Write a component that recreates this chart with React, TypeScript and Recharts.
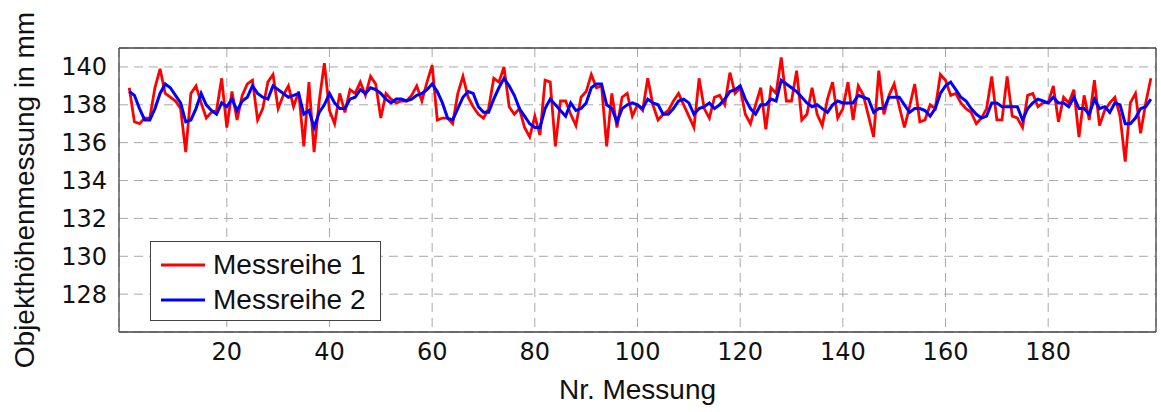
import { LineChart, Line, XAxis, YAxis, CartesianGrid, ReferenceLine, Legend } from 'recharts'

// Nr. Messung 1..200
const MESSREIHE_1 = [
  138.9, 137.1, 137.0, 137.3, 137.3, 138.9, 139.9, 138.6, 138.4, 138.2,
  137.8, 135.5, 138.6, 139.0, 138.1, 137.3, 137.6, 137.7, 139.4, 136.8,
  138.7, 137.2, 138.5, 139.1, 139.3, 137.2, 137.8, 139.2, 139.6, 137.8,
  138.5, 139.0, 137.9, 138.7, 135.8, 139.2, 135.5, 138.2, 140.2, 137.7,
  137.0, 138.6, 137.6, 138.8, 138.6, 139.2, 138.5, 139.5, 139.1, 137.3,
  138.6, 138.3, 138.1, 138.2, 138.2, 138.5, 139.0, 138.2, 139.2, 140.1,
  137.2, 137.3, 137.3, 137.0, 138.6, 139.5, 138.4, 137.9, 137.5, 137.3,
  137.8, 139.4, 139.2, 140.0, 137.9, 137.5, 137.8, 136.8, 136.3, 137.4,
  136.4, 139.3, 139.2, 135.8, 138.2, 138.2, 137.5, 136.9, 138.4, 138.7,
  139.6, 138.9, 139.0, 135.8, 138.6, 136.8, 138.4, 138.6, 137.4, 138.0,
  137.7, 139.4, 138.0, 137.2, 137.5, 137.7, 138.2, 138.6, 138.0, 137.4,
  136.8, 139.4, 137.8, 137.3, 138.4, 138.5, 138.0, 139.7, 138.6, 138.9,
  137.5, 137.0, 138.0, 138.9, 136.7, 138.9, 138.6, 140.5, 138.2, 138.2,
  139.8, 137.2, 137.5, 138.9, 137.5, 136.9, 138.3, 139.2, 137.3, 137.8,
  139.2, 137.2, 139.0, 138.5, 137.4, 136.3, 139.8, 137.5, 138.5, 139.1,
  137.9, 136.8, 137.9, 139.1, 137.1, 137.2, 138.0, 137.8, 139.6, 139.3,
  138.5, 138.6, 138.1, 137.8, 137.6, 137.0, 137.3, 137.8, 139.5, 137.2,
  137.2, 139.5, 137.4, 137.3, 136.8, 138.5, 138.6, 137.9, 138.1, 138.1,
  139.0, 137.1, 138.4, 138.1, 138.8, 136.3, 138.5, 137.2, 139.3, 136.9,
  137.7, 138.1, 138.4, 137.4, 135.0, 138.1, 138.6, 136.5, 138.1, 139.4,
]

const MESSREIHE_2 = [
  138.7, 138.5, 137.8, 137.2, 137.2, 137.8, 138.6, 139.1, 138.9, 138.5,
  138.1, 137.1, 137.2, 137.8, 138.6, 138.0, 137.7, 137.5, 138.1, 137.9,
  138.3, 137.7, 138.2, 138.4, 139.0, 138.6, 138.4, 138.3, 139.0, 138.8,
  138.6, 138.4, 138.5, 138.6, 137.5, 137.7, 136.8, 137.6, 138.0, 138.6,
  138.1, 137.8, 137.8, 138.3, 138.4, 138.8, 138.6, 138.9, 138.8, 138.6,
  138.3, 138.1, 138.3, 138.3, 138.2, 138.3, 138.5, 138.6, 138.8, 139.1,
  138.7, 138.1, 137.3, 137.2, 137.8, 138.4, 138.7, 138.6, 137.9, 137.6,
  137.6, 138.3, 138.9, 139.4, 139.0, 138.5, 137.8, 137.4, 137.0, 136.8,
  136.8, 137.8, 138.3, 138.0, 137.7, 137.4, 138.1, 137.7, 137.8, 138.1,
  138.9, 139.1, 139.1, 138.0, 137.8, 137.1, 137.8, 138.0, 138.1, 138.0,
  137.8, 138.3, 138.1, 138.0, 137.5, 137.5, 137.8, 138.2, 138.3, 138.1,
  137.5, 137.8, 137.9, 138.1, 137.8, 138.0, 138.3, 138.7, 138.8, 139.0,
  138.3, 137.8, 137.5, 138.0, 138.0, 138.3, 138.2, 139.3, 139.1, 138.9,
  138.7, 138.4, 138.1, 137.9, 138.0, 137.8, 137.6, 138.0, 138.2, 138.1,
  138.1, 138.1, 138.5, 138.4, 138.3, 137.6, 137.8, 137.8, 138.4, 138.4,
  138.4, 138.0, 137.6, 137.8, 137.8, 137.7, 137.4, 137.8, 138.6, 139.0,
  139.2, 138.8, 138.4, 138.2, 137.8, 137.5, 137.3, 137.4, 138.1, 138.1,
  137.9, 137.9, 137.9, 137.9, 137.2, 137.8, 138.1, 138.3, 138.2, 138.1,
  138.4, 138.1, 138.1, 137.9, 138.4, 137.8, 137.8, 137.5, 138.3, 137.8,
  137.9, 137.6, 138.1, 138.0, 137.0, 137.0, 137.3, 137.8, 137.9, 138.3,
]

const X_TICKS = [20, 40, 60, 80, 100, 120, 140, 160, 180]
const Y_TICKS = [128, 130, 132, 134, 136, 138, 140]

const rows = MESSREIHE_1.map((v, i) => ({ nr: i + 1, m1: v, m2: MESSREIHE_2[i] }))

const frame = '#444'
const tickFont = { fontSize: 24, fontFamily: 'DejaVu Sans', fill: '#111' }
const labelFont = { fontSize: 28, fontFamily: 'Liberation Sans', fill: '#111' }

function renderLegend(props: any) {
  const payload = props.payload || []
  return (
    <div style={{
      border: `1px solid ${frame}`, background: '#fff', width: 231, height: 80,
      paddingTop: 5, boxSizing: 'border-box', fontFamily: 'Liberation Sans', fontSize: 28, color: '#111',
    }}>
      {payload.map((e: any) => (
        <div key={e.value} style={{ display: 'flex', alignItems: 'center', height: 35 }}>
          <svg width={62} height={6} style={{ display: 'block' }}>
            <line x1={10} y1={3} x2={54} y2={3} stroke={e.color} strokeWidth={3} />
          </svg>
          <span style={{ lineHeight: '35px' }}>{e.value}</span>
        </div>
      ))}
    </div>
  )
}

export default function App() {
  return (
    <div style={{ position: 'absolute', left: 0, top: 0, background: '#fff' }}>
      <LineChart width={1161} height={412} data={rows} margin={{ top: 48, right: 5, bottom: 50, left: 0 }}>
        <CartesianGrid strokeDasharray="9 6" stroke="#a8a8a8" />
        <XAxis
          dataKey="nr"
          type="number"
          domain={[-1, 201]}
          ticks={X_TICKS}
          height={30}
          tickSize={0}
          tickMargin={11}
          tick={tickFont}
          axisLine={{ stroke: frame, strokeWidth: 1.3 }}
          label={{ value: 'Nr. Messung', position: 'bottom', offset: 17, style: labelFont }}
        />
        <YAxis
          type="number"
          domain={[126, 141]}
          ticks={Y_TICKS}
          width={119}
          tickSize={0}
          tickMargin={12}
          tick={tickFont}
          axisLine={{ stroke: frame, strokeWidth: 1.3 }}
          allowDataOverflow
          label={{ value: 'Objekthöhenmessung in mm', angle: -90, position: 'insideLeft', offset: 24, style: { ...labelFont, textAnchor: 'middle' } }}
        />
        <ReferenceLine y={141} stroke={frame} strokeWidth={1.3} />
        <ReferenceLine x={201} stroke={frame} strokeWidth={1.3} />
        <Line type="linear" dataKey="m1" name="Messreihe 1" stroke="#ff0000" strokeWidth={2.8} dot={false} isAnimationActive={false} />
        <Line type="linear" dataKey="m2" name="Messreihe 2" stroke="#0000ff" strokeWidth={3} dot={false} isAnimationActive={false} />
        <Legend
          layout="horizontal"
          align="center"
          verticalAlign="middle"
          content={renderLegend}
          wrapperStyle={{ left: 150, top: 241, width: 231, height: 80 }}
        />
      </LineChart>
    </div>
  )
}
